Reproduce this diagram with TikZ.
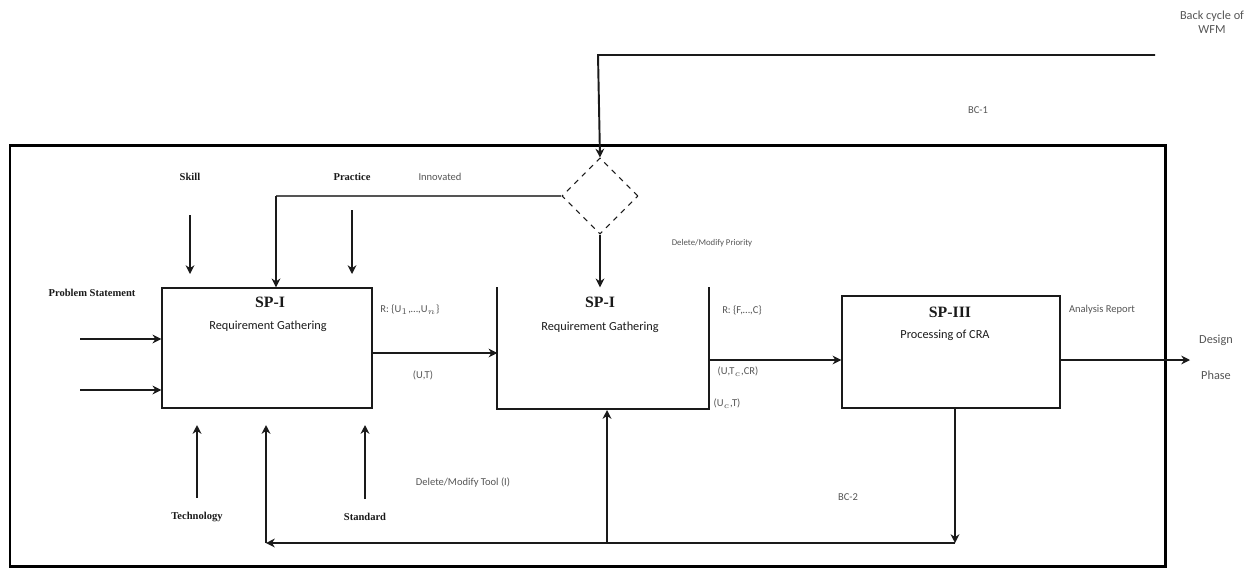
\documentclass[tikz,border=0pt]{standalone}
\usepackage{fontspec}
\setmainfont{Liberation Serif}
\setsansfont{Carlito}
\usepackage{tikz}
\usetikzlibrary{arrows.meta,positioning,shapes.geometric}
\usepackage{xcolor}
\definecolor{ink}{HTML}{1A1A1A}
\definecolor{faded}{HTML}{555555}
\definecolor{frame}{HTML}{000000}

\begin{document}
\begin{tikzpicture}[x=0.02cm,y=-0.02cm,
  proc/.style={draw=ink,line width=0.8pt,minimum width=4.2cm,minimum height=2.4cm,inner sep=0pt},
  flow/.style={draw=ink,line width=1.1pt,-{Stealth[length=5pt,width=5pt]}},
  thinflow/.style={draw=ink,line width=0.7pt,-{Stealth[length=5pt,width=5pt]}},
  lbl/.style={font=\sffamily\fontsize{6}{7}\selectfont,text=faded,align=center},
  hdr/.style={font=\bfseries\fontsize{6}{7}\selectfont,text=ink},
  ttl/.style={font=\bfseries\fontsize{9}{10}\selectfont,text=ink},
  sub/.style={font=\sffamily\fontsize{7}{8}\selectfont,text=ink}]
  \useasboundingbox (0,0) rectangle (1250,569);

  % Outer frame of the work flow
  \draw[frame,line width=1.7pt] (10,145) rectangle (1165,566);

  % Sub-processes
  \node[proc] (req) at (267,348) {};
  \node[ttl] (reqT) at (270,302) {SP-I};
  \node[sub] (reqS) at (268,326) {Requirement Gathering};

  \node[proc,draw=none] (ana) at (603,348) {};
  \draw[ink,line width=1.1pt] (ana.north west) -- (ana.south west) -- (ana.south east) -- (ana.north east);
  \node[ttl] (anaT) at (600,302) {SP-I};
  \node[sub] (anaS) at (600,327) {Requirement Gathering};

  \node[proc,minimum width=4.36cm,minimum height=2.24cm] (cra) at (951,352) {};
  \node[ttl] (craT) at (950,312) {SP-III};
  \node[sub] (craS) at (945,335) {Processing of CRA};

  % Decision for back cycle
  \node[diamond,draw=ink,dashed,line width=0.6pt,minimum width=1.52cm,minimum height=1.52cm,inner sep=0pt] (dec) at (600,196) {};

  % Back cycle of WFM
  \node[lbl,font=\sffamily\fontsize{7}{8}\selectfont] (wfmL) at (1212,22) {Back cycle of\\WFM};
  \coordinate (wfm) at (1155,55);
  \coordinate (wfmTurn) at (598,55);
  \draw[flow] (wfm) -- (wfmTurn) -- (dec.north);
  \node[lbl] (bc1) at (978,110) {BC-1};

  % Controls on SP-I
  \node[hdr] (skill) at (190,177) {Skill};
  \node[hdr] (practice) at (352,177) {Practice};
  \coordinate (skillEnd) at (190,274);
  \coordinate (practiceEnd) at (352,274);
  \draw[flow] (190,215) -- (skillEnd);
  \draw[flow] (352,210) -- (practiceEnd);
  \coordinate (pturn) at (276,196);
  \draw[draw=faded,line width=0.7pt] (dec.west) -- (pturn);
  \draw[flow] (pturn) -- (pturn |- req.north);
  \node[lbl] (innov) at (440,177) {Innovated};

  \draw[flow] (dec.south) -- (dec.south |- ana.north);
  \node[lbl,font=\sffamily\fontsize{5}{6}\selectfont] (prio) at (712,243) {Delete/Modify Priority};

  % Inputs
  \node[hdr] (prob) at (92,293) {Problem Statement};
  \coordinate (in1) at (80,339);
  \coordinate (in2) at (80,390);
  \draw[flow] (in1) -- (in1 -| req.west);
  \draw[flow] (in2) -- (in2 -| req.west);

  % Flow between sub-processes
  \draw[thinflow] (req.east |- 0,353) -- (ana.west |- 0,353);
  \node[lbl] (reqOut) at (410,310) {R: \{U$_1$,\dots,U$_n$\}};
  \node[lbl] (ut1) at (423,375) {(U,T)};

  \draw[thinflow] (ana.east |- 0,360) -- (cra.west |- 0,360);
  \node[lbl] (anaOut) at (742,310) {R: \{F,\dots,C\}};
  \node[lbl] (utc) at (738,372) {(U,T$_c$,CR)};
  \node[lbl] (ut2) at (727,404) {(U$_c$,T)};

  % Output to design
  \coordinate (design) at (1190,360);
  \draw[thinflow] (cra.east |- design) -- (design);
  \node[lbl,font=\sffamily\fontsize{7}{8}\selectfont] (designL) at (1216,340) {Design};
  \node[lbl,font=\sffamily\fontsize{7}{8}\selectfont] (phaseL) at (1216,375) {Phase};
  \node[lbl] (report) at (1102,310) {Analysis Report};

  % Mechanisms on SP-I
  \node[hdr] (tech) at (197,517) {Technology};
  \node[hdr] (std) at (365,517) {Standard};
  \draw[flow] (tech.north) ++(0,-8) -- (197,425);
  \draw[flow] (std.north) ++(0,-8) -- (365,425);

  % Back cycle BC-2
  \coordinate (bc2Down) at (955,543);
  \coordinate (bc2Corner) at (266,543);
  \draw[flow] (cra.south -| bc2Down) -- (bc2Down);
  \draw[flow] (bc2Down) -- (bc2Corner);
  \draw[flow] (bc2Corner) -- (266,425);
  \draw[flow] (607,543) -- (607,410);
  \node[lbl] (bc2) at (848,497) {BC-2};
  \node[lbl] (tool) at (463,482) {Delete/Modify Tool (I)};
\end{tikzpicture}
\end{document}
